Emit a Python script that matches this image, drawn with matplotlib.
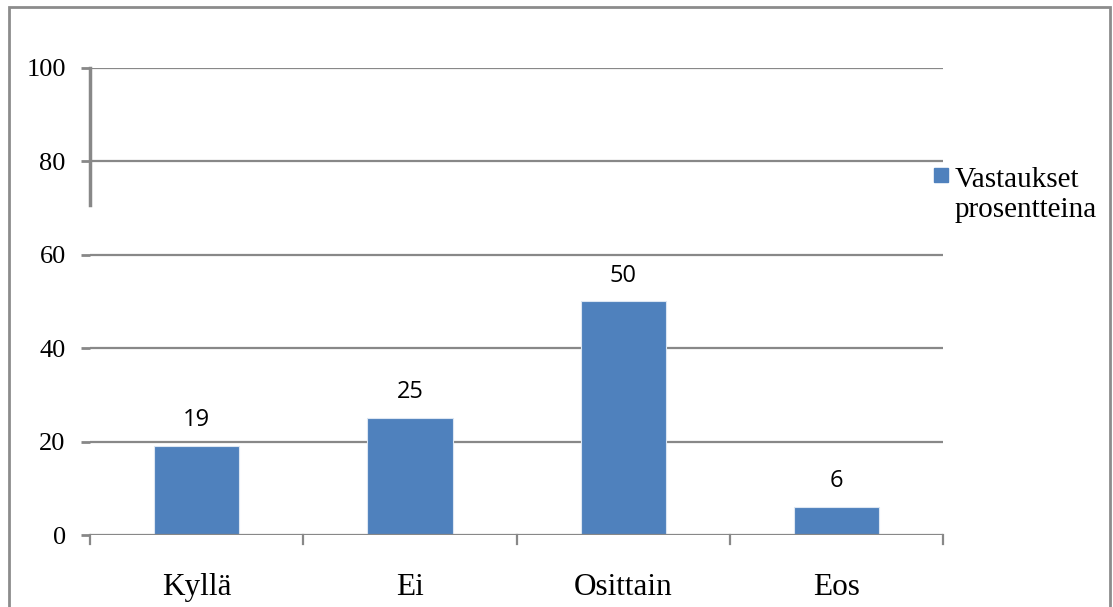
import matplotlib
matplotlib.use("Agg")
import matplotlib.pyplot as plt
from matplotlib.patches import Rectangle
import numpy as np

categories = ["Kyllä", "Ei", "Osittain", "Eos"]
values = [19, 25, 50, 6]
series_name = "Vastaukset\nprosentteina"
yticks = [0, 20, 40, 60, 80, 100]

bar_color = "#4F81BD"
grid_color = "#888888"

fig = plt.figure(figsize=(11.13, 6.07), dpi=100)
ax = fig.add_axes([0.0809, 0.1186, 0.7664, 0.7694])

x = np.arange(len(categories))
bars = ax.bar(x, values, width=0.4, color=bar_color, edgecolor="#DCE6F2",
              linewidth=0.8, zorder=3, label=series_name)

ax.set_xlim(-0.5, len(categories) - 0.5)
ax.set_ylim(0, 100)

# gridlines
for yv in yticks[1:]:
    ax.axhline(yv, color=grid_color, lw=1.6, zorder=1)

for s in ax.spines.values():
    s.set_visible(False)
ax.axhline(0, color=grid_color, lw=1.6, zorder=4)
# the short piece of y axis left in the original
ax.plot([-0.5, -0.5], [70.7, 100], color=grid_color, lw=2.5, clip_on=False, zorder=4)

ax.set_yticks(yticks)
ax.set_yticklabels([str(v) for v in yticks], fontfamily="Liberation Serif", fontsize=19)
ax.tick_params(axis="y", length=6.5, width=2, color=grid_color, pad=11)

ax.set_xticks(x)
ax.set_xticklabels(categories, fontfamily="Liberation Serif", fontsize=22.5)
ax.tick_params(axis="x", length=0, pad=27)
for b in np.arange(len(categories) + 1) - 0.5:
    ax.plot([b, b], [0, -1.9], color=grid_color, lw=1.6, clip_on=False, zorder=4)

for rect, v in zip(bars, values):
    ax.annotate(str(v), (rect.get_x() + rect.get_width() / 2, v),
                xytext=(0, 10), textcoords="offset points",
                ha="center", va="bottom", fontfamily="Open Sans", fontsize=17)

# legend
fig.patches.append(Rectangle((934 / 1113, 1 - 182 / 607), 14 / 1113, 14 / 607,
                             transform=fig.transFigure, color=bar_color))
fig.text(955 / 1113, 1 - 167 / 607, series_name, fontfamily="Liberation Serif",
         fontsize=21, va="top", ha="left", linespacing=1.19,
         transform=fig.transFigure)

# outer frame
fig.patches.append(Rectangle((9 / 1113, -0.05), (1110 - 9) / 1113, 1.05 - 7 / 607,
                             transform=fig.transFigure, fill=False,
                             edgecolor="#8C8C8C", lw=2))

fig.savefig("out.png", dpi=100)
